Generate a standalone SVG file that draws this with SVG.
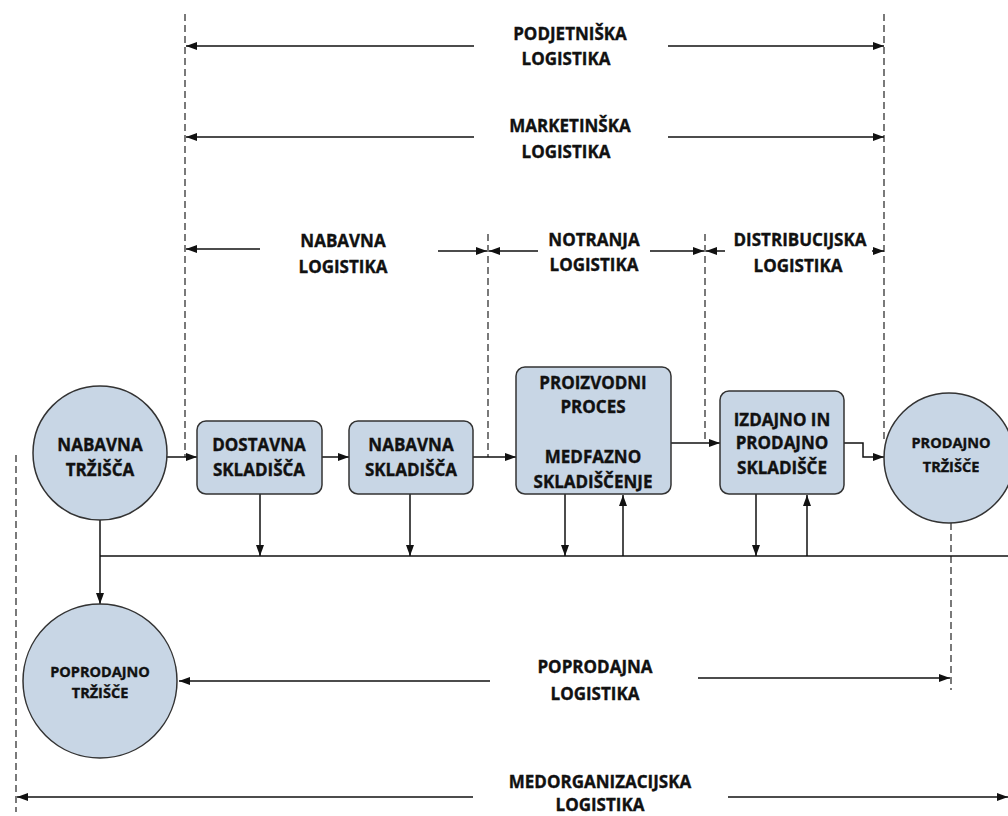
<svg xmlns="http://www.w3.org/2000/svg" width="1008" height="816" viewBox="0 0 1008 816">
  <defs>
    <marker id="ah" markerUnits="userSpaceOnUse" markerWidth="12" markerHeight="9" refX="11" refY="4" orient="auto">
      <path d="M0,0 L11,4 L0,8 z" fill="#111"/>
    </marker>
    <style>
      .lbl { font-family: "Open Sans", "Liberation Sans", sans-serif; font-weight: 700; font-size: 17px; fill: #111; stroke: #111; stroke-width: 0.35; text-anchor: middle; }
      .sm { font-size: 14.5px; }
      .node { fill: #c8d6e5; stroke: #333; stroke-width: 1.5; }
      .arr { stroke: #111; stroke-width: 1.5; fill: none; marker-end: url(#ah); }
      .ln { stroke: #111; stroke-width: 1.5; fill: none; }
      .dash { stroke: #222; stroke-width: 1.2; stroke-dasharray: 7 4; fill: none; }
    </style>
  </defs>
  <rect width="1008" height="816" fill="#fff"/>

  <!-- boundary lines -->
  <g id="boundaries">
    <line class="dash" x1="185" y1="14" x2="185" y2="457"/>
    <line class="dash" x1="884" y1="14" x2="884" y2="440"/>
    <line class="dash" x1="488" y1="234" x2="488" y2="457"/>
    <line class="dash" x1="705" y1="234" x2="705" y2="443"/>
    <line class="dash" x1="16" y1="455" x2="16" y2="812"/>
    <line class="dash" x1="951" y1="523" x2="951" y2="690"/>
  </g>

  <!-- span arrows and their labels -->
  <g id="spans">
    <line class="arr" x1="474" y1="46" x2="186" y2="46"/>
    <line class="arr" x1="668" y1="46" x2="884" y2="46"/>
    <text class="lbl" x="570" y="40">PODJETNIŠKA</text>
    <text class="lbl" x="566" y="65">LOGISTIKA</text>

    <line class="arr" x1="474" y1="137" x2="186" y2="137"/>
    <line class="arr" x1="668" y1="137" x2="884" y2="137"/>
    <text class="lbl" x="570" y="132">MARKETINŠKA</text>
    <text class="lbl" x="566" y="158">LOGISTIKA</text>

    <line class="arr" x1="260" y1="249" x2="186" y2="249"/>
    <line class="arr" x1="438" y1="251" x2="487" y2="251"/>
    <text class="lbl" x="343" y="247">NABAVNA</text>
    <text class="lbl" x="343" y="273">LOGISTIKA</text>

    <line class="arr" x1="538" y1="251" x2="489" y2="251"/>
    <line class="arr" x1="650" y1="251" x2="704" y2="251"/>
    <text class="lbl" x="594" y="246">NOTRANJA</text>
    <text class="lbl" x="594" y="271">LOGISTIKA</text>

    <line class="arr" x1="725" y1="251" x2="706" y2="251"/>
    <line class="arr" x1="872" y1="251" x2="884" y2="251"/>
    <text class="lbl" x="800" y="246">DISTRIBUCIJSKA</text>
    <text class="lbl" x="798" y="272">LOGISTIKA</text>

    <line class="arr" x1="490" y1="681" x2="179" y2="681"/>
    <line class="arr" x1="698" y1="678" x2="950" y2="678"/>
    <text class="lbl" x="595" y="673">POPRODAJNA</text>
    <text class="lbl" x="595" y="700">LOGISTIKA</text>

    <line class="arr" x1="473" y1="797" x2="17" y2="797"/>
    <line class="arr" x1="728" y1="797" x2="1008" y2="797"/>
    <text class="lbl" x="600" y="788">MEDORGANIZACIJSKA</text>
    <text class="lbl" x="600" y="811">LOGISTIKA</text>
  </g>

  <!-- flow connectors -->
  <g id="connectors">
    <line class="arr" x1="167" y1="457" x2="197" y2="457"/>
    <line class="arr" x1="322" y1="457" x2="349" y2="457"/>
    <line class="arr" x1="473" y1="457" x2="516" y2="457"/>
    <line class="arr" x1="671" y1="443" x2="720" y2="443"/>
    <polyline class="arr" points="844,443 863,443 863,457 884,457"/>

    <line class="ln" x1="100" y1="556" x2="1008" y2="556"/>
    <line class="arr" x1="100" y1="520" x2="100" y2="604"/>

    <line class="arr" x1="260" y1="494" x2="260" y2="556"/>
    <line class="arr" x1="410" y1="494" x2="410" y2="556"/>
    <line class="arr" x1="565" y1="494" x2="565" y2="556"/>
    <line class="arr" x1="623" y1="556" x2="623" y2="495"/>
    <line class="arr" x1="756" y1="494" x2="756" y2="556"/>
    <line class="arr" x1="807" y1="556" x2="807" y2="495"/>
  </g>

  <g id="nabavna-trzisca">
    <circle class="node" cx="100" cy="453" r="67"/>
    <text class="lbl" x="100" y="451">NABAVNA</text>
    <text class="lbl" x="100" y="476">TRŽIŠČA</text>
  </g>

  <g id="dostavna-skladisca">
    <rect class="node" x="197" y="421" width="125" height="73" rx="9"/>
    <text class="lbl" x="259" y="451">DOSTAVNA</text>
    <text class="lbl" x="259" y="476">SKLADIŠČA</text>
  </g>

  <g id="nabavna-skladisca">
    <rect class="node" x="349" y="421" width="124" height="73" rx="9"/>
    <text class="lbl" x="411" y="451">NABAVNA</text>
    <text class="lbl" x="411" y="476">SKLADIŠČA</text>
  </g>

  <g id="proizvodni-proces">
    <rect class="node" x="516" y="367" width="155" height="127" rx="9"/>
    <text class="lbl" x="593" y="389">PROIZVODNI</text>
    <text class="lbl" x="593" y="413">PROCES</text>
    <text class="lbl" x="593" y="463">MEDFAZNO</text>
    <text class="lbl" x="593" y="488">SKLADIŠČENJE</text>
  </g>

  <g id="izdajno-skladisce">
    <rect class="node" x="720" y="391" width="124" height="103" rx="9"/>
    <text class="lbl" x="782" y="426">IZDAJNO IN</text>
    <text class="lbl" x="782" y="449">PRODAJNO</text>
    <text class="lbl" x="782" y="474">SKLADIŠČE</text>
  </g>

  <g id="prodajno-trzisce">
    <circle class="node" cx="949" cy="458" r="65"/>
    <text class="lbl sm" x="951" y="448">PRODAJNO</text>
    <text class="lbl sm" x="951" y="472">TRŽIŠČE</text>
  </g>

  <g id="poprodajno-trzisce">
    <circle class="node" cx="100" cy="681" r="77"/>
    <text class="lbl sm" x="100" y="677">POPRODAJNO</text>
    <text class="lbl sm" x="100" y="698">TRŽIŠČE</text>
  </g>
</svg>
